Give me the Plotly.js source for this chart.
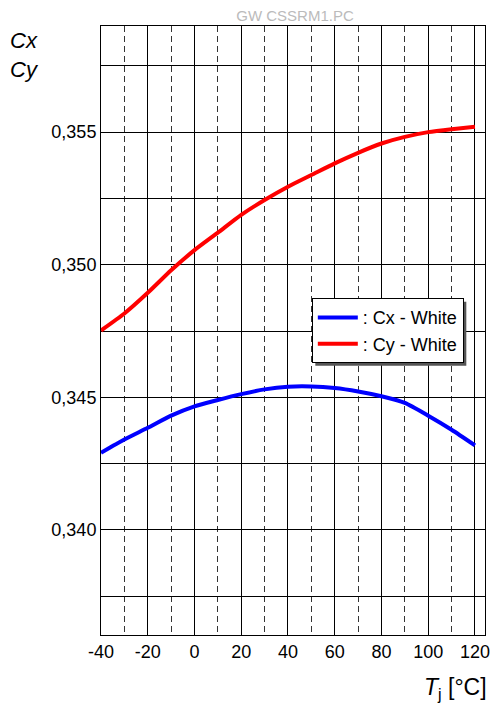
<!DOCTYPE html>
<html>
<head>
<meta charset="utf-8">
<script src="https://cdn.plot.ly/plotly-3.0.1.min.js"></script>
<style>html,body{margin:0;padding:0;background:#fff;}#chart{width:492px;height:704px;}</style>
</head>
<body>
<div id="chart"></div>
<script>
const temps = [-40,-30,-20,-10,0,10,20,30,40,50,60,70,80,90,100,110,120];
const cxWhite = [0.34291,0.34341,0.34385,0.34431,0.34466,0.34490,0.34512,0.34530,0.34540,0.34541,0.34535,0.34522,0.34504,0.34479,0.34431,0.34378,0.34319];
const cyWhite = [0.34752,0.34816,0.34894,0.34979,0.35055,0.35121,0.35188,0.35244,0.35294,0.35338,0.35382,0.35422,0.35457,0.35482,0.35500,0.35511,0.35520];
const seriesNames = [': Cx - White', ': Cy - White'];
const xTicks = [-40,-20,0,20,40,60,80,100,120];
const yTicks = [0.340,0.345,0.350,0.355];
const chartTitle = 'GW CSSRM1.PC';

const font = 'Arial, "Liberation Sans", sans-serif';

const traces = [
  {x: temps, y: cxWhite, name: seriesNames[0], mode: 'lines',
   line: {color: '#0000ff', width: 4, shape: 'spline', smoothing: 0.6}},
  {x: temps, y: cyWhite, name: seriesNames[1], mode: 'lines',
   line: {color: '#ff0000', width: 4, shape: 'spline', smoothing: 0.6}}
];

const layout = {
  width: 492, height: 704,
  margin: {l: 101, r: 7, t: 26, b: 69},
  paper_bgcolor: '#fff', plot_bgcolor: '#fff',
  separators: ',.',
  font: {family: font, size: 18, color: '#000'},
  title: {text: chartTitle, font: {family: font, size: 15, color: '#bbbbbb'},
          x: 295/492, xanchor: 'center', y: 1 - 16/704, yanchor: 'middle'},
  showlegend: true,
  legend: {x: 0.549, y: 0.553, xanchor: 'left', yanchor: 'top',
           bgcolor: '#fff', bordercolor: '#000', borderwidth: 1,
           font: {family: font, size: 18, color: '#000'},
           tracegroupgap: 0, itemwidth: 40},
  xaxis: {
    range: [-40, 124.3], tickvals: xTicks, ticktext: xTicks.map(String),
    showgrid: true, gridcolor: '#000', gridwidth: 1,
    minor: {dtick: 10, tick0: -40, showgrid: true, gridcolor: '#333', gridwidth: 1, griddash: '6px,4px'},
    showline: true, linecolor: '#000', linewidth: 1, mirror: true,
    ticks: '', zeroline: false, tickfont: {size: 18}
  },
  yaxis: {
    range: [0.33604, 0.359], tickvals: yTicks, tickformat: '.3f',
    showgrid: true, gridcolor: '#000', gridwidth: 1,
    minor: {dtick: 0.0025, tick0: 0.335, showgrid: true, gridcolor: '#000', gridwidth: 1},
    showline: true, linecolor: '#000', linewidth: 1, mirror: true,
    ticks: '', zeroline: false, tickfont: {size: 18}
  },
  annotations: [
    {xref: 'paper', yref: 'paper', x: -101/384, y: 1 + (26-41)/609, xanchor: 'left', yanchor: 'middle',
     text: '<i>Cx</i>', showarrow: false, font: {size: 22}, xshift: 8},
    {xref: 'paper', yref: 'paper', x: -101/384, y: 1 + (26-69)/609, xanchor: 'left', yanchor: 'middle',
     text: '<i>Cy</i>', showarrow: false, font: {size: 22}, xshift: 8},
    {xref: 'paper', yref: 'paper', x: 1, y: -(688-635)/609, xanchor: 'right', yanchor: 'middle',
     text: '<i>T</i><sub>j</sub> [°C]', showarrow: false, font: {size: 23}, xshift: 4}
  ],
  shapes: []
};

Plotly.newPlot('chart', traces, layout, {displayModeBar: false, staticPlot: true}).then(function(gd){
  const bg = gd.querySelector('.legend .bg');
  if (bg) {
    const r = bg.getBoundingClientRect();
    const c = gd.getBoundingClientRect();
    const fl = gd._fullLayout;
    const xs = fl.xaxis._offset, ys = fl.yaxis._offset, w = fl.xaxis._length, h = fl.yaxis._length;
    const toX = px => (px - xs) / w, toY = py => 1 - (py - ys) / h;
    const x0 = r.left - c.left + 3, x1 = r.right - c.left + 3, y0 = r.top - c.top + 3, y1 = r.bottom - c.top + 3;
    Plotly.relayout(gd, {shapes: [{type: 'rect', xref: 'paper', yref: 'paper', layer: 'above',
      x0: toX(x0), x1: toX(x1), y0: toY(y1), y1: toY(y0), fillcolor: '#555', line: {width: 0}}]});
  }
});
</script>
</body>
</html>
